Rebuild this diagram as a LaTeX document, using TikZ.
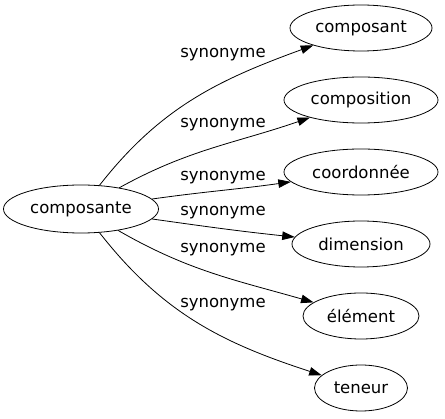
\documentclass[tikz,border=0pt]{standalone}
\usepackage{fontspec}
\setmainfont{DejaVu Sans}
\usetikzlibrary{arrows.meta,shapes.geometric}

\tikzset{
	word/.style={draw, ellipse, line width=0.8pt, inner sep=0pt,
		minimum height=46pt, font=\fontsize{16.5}{18}\selectfont},
	syn/.style={-{Triangle[length=12.5pt,width=8.5pt]}, line width=0.8pt},
	synlabel/.style={inner sep=0pt, font=\fontsize{16.5}{18}\selectfont}
}

\begin{document}
\begin{tikzpicture}[
			x=1pt,
			y=-1pt,
			line cap=round,
			line join=round
			]
			\useasboundingbox (0,0) rectangle (445,419);
			
			% The word itself
			\node[word, minimum width=155pt, minimum height=48pt] (composante) at (81,209) {composante};
			
			% Synonyms: ellipse, edge and edge label
			\foreach \nm/\txt/\y/\w/\oa/\ia/\ly in {
				composant/composant/28/142/52/200/55,
				composition/composition/100/154/29/199/125,
				coordonnee/coordonnée/172/154/8/188/178,
				dimension/dimension/244/138/-8/174/213,
				element/élément/316/116/-30/164/250,
				teneur/teneur/388/93/-52/162/305}
			{
				\node[word, minimum width=\w pt] (\nm) at (361,\y) {\txt};
				\draw[syn] (composante) to[out=\oa, in=\ia] (\nm);
				\node[synlabel] (lab-\nm) at (223,\ly) {synonyme};
			}
		\end{tikzpicture}
\end{document}
